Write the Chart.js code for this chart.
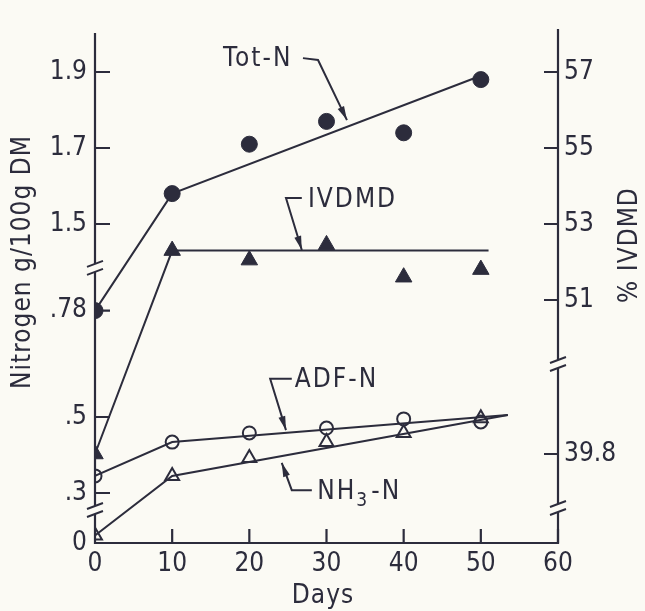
<!DOCTYPE html>
<html>
<head>
<meta charset="utf-8">
<script src="https://cdn.jsdelivr.net/npm/chart.js@4"></script>
<style>
html, body { margin: 0; padding: 0; background: #fbfaf4; }
</style>
</head>
<body>
<canvas id="myChart" width="645" height="611"></canvas>
<script>
// values
var days = [0, 10, 20, 30, 40, 50];
var totN = [0.78, 1.58, 1.71, 1.77, 1.74, 1.88];
var ivdmd = [39.8, 52.3, 52.05, 52.45, 51.6, 51.8];
var adfN = [0.345, 0.434, 0.458, 0.471, 0.495, 0.487];
var nh3N = [0.02, 0.345, 0.392, 0.434, 0.458, 0.497];

// hand-drawn fit lines
var totNFitDays = [0, 10, 50];
var totNFit = [0.78, 1.58, 1.89];
var ivdmdFitDays = [0, 10, 51];
var ivdmdFit = [39.8, 52.3, 52.3];
var adfFitDays = [0, 10, 53.5];
var adfFit = [0.345, 0.434, 0.505];
var nh3FitDays = [0, 10, 53.5];
var nh3Fit = [0.02, 0.345, 0.505];

var leftTicks = [0, 0.3, 0.5, 0.78, 1.5, 1.7, 1.9];
var leftLabels = ['0', '.3', '.5', '.78', '1.5', '1.7', '1.9'];
var rightTicks = [39.8, 51, 53, 55, 57];
var rightLabels = ['39.8', '51', '53', '55', '57'];

var ink = '#2c2c3c';
var paper = '#fbfaf4';
var fam = "'DejaVu Sans Condensed', 'Liberation Sans Narrow', 'DejaVu Sans', sans-serif";

// broken axes: every piece is shifted down by a fixed amount
function nPos(v) {
  if (v >= 1.0) return v - 0.6605;
  if (v >= 0.2) return v - 0.1684;
  return v;
}
function ivPos(v) {
  return v >= 45 ? (v - 44.605) / 10 : (v - 37.458) / 10;
}
var leftBreaks = [0.087, 0.724];
var rightBreaks = [0.092, 0.471];

function pts(xs, ys, f) {
  return xs.map(function (x, i) { return { x: x, y: f(ys[i]) }; });
}

function fitLine(xs, ys, f) {
  return { data: pts(xs, ys, f), showLine: true, pointRadius: 0, borderColor: ink, borderWidth: 2, tension: 0 };
}

function breakMark(ctx, x, y) {
  ctx.fillStyle = paper;
  ctx.fillRect(x - 3, y - 4, 6, 8);
  ctx.beginPath();
  [-4, 4].forEach(function (k) {
    ctx.moveTo(x - 8, y + k + 3);
    ctx.lineTo(x + 8, y + k - 3);
  });
  ctx.stroke();
}

function arrow(ctx, path) {
  ctx.beginPath();
  ctx.moveTo(path[0][0], path[0][1]);
  for (var i = 1; i < path.length; i++) ctx.lineTo(path[i][0], path[i][1]);
  ctx.stroke();
  var a = path[path.length - 2], b = path[path.length - 1];
  var ang = Math.atan2(b[1] - a[1], b[0] - a[0]);
  ctx.beginPath();
  ctx.moveTo(b[0], b[1]);
  ctx.lineTo(b[0] - 14 * Math.cos(ang) + 3.5 * Math.sin(ang), b[1] - 14 * Math.sin(ang) - 3.5 * Math.cos(ang));
  ctx.lineTo(b[0] - 14 * Math.cos(ang) - 3.5 * Math.sin(ang), b[1] - 14 * Math.sin(ang) + 3.5 * Math.cos(ang));
  ctx.closePath();
  ctx.fill();
}

var paperAxes = {
  id: 'paperAxes',
  beforeDatasetsDraw: function (chart) {
    var ctx = chart.ctx, xs = chart.scales.x, ys = chart.scales.y;
    var x0 = xs.getPixelForValue(0), x1 = xs.getPixelForValue(60), yb = ys.getPixelForValue(0);
    ctx.save();
    ctx.strokeStyle = ink;
    ctx.lineWidth = 2.2;
    ctx.beginPath();
    ctx.moveTo(x0, chart.chartArea.top - 1); ctx.lineTo(x0, yb);
    ctx.lineTo(x1, yb); ctx.lineTo(x1, chart.chartArea.top - 5);
    ctx.stroke();
    ctx.beginPath();
    leftTicks.forEach(function (v) {
      if (v === 0) return;
      var y = ys.getPixelForValue(nPos(v));
      ctx.moveTo(x0, y); ctx.lineTo(x0 + 15, y);
    });
    rightTicks.forEach(function (v) {
      var y = ys.getPixelForValue(ivPos(v));
      ctx.moveTo(x1, y); ctx.lineTo(x1 - 14, y);
    });
    for (var d = 10; d <= 60; d += 10) {
      var x = xs.getPixelForValue(d);
      ctx.moveTo(x, yb); ctx.lineTo(x, yb - 14);
    }
    ctx.stroke();
    ctx.lineWidth = 2;
    leftBreaks.forEach(function (b) { breakMark(ctx, x0, ys.getPixelForValue(b)); });
    rightBreaks.forEach(function (b) { breakMark(ctx, x1, ys.getPixelForValue(b)); });
    ctx.restore();
  },
  afterDraw: function (chart) {
    var ctx = chart.ctx, xs = chart.scales.x, ys = chart.scales.y;
    function P(day, pos) { return [xs.getPixelForValue(day), ys.getPixelForValue(pos)]; }
    ctx.save();
    ctx.fillStyle = ink;
    ctx.strokeStyle = ink;
    ctx.lineWidth = 2;
    ctx.font = '26px ' + fam;
    ctx.letterSpacing = '2px';
    ctx.textBaseline = 'middle';
    ctx.textAlign = 'left';

    var t = P(16.6, 1.274);
    ctx.fillText('Tot-N', t[0], t[1]);
    arrow(ctx, [P(26.95, 1.276), P(28.9, 1.271), P(32.65, 1.113)]);

    t = P(27.6, 0.903);
    ctx.fillText('IVDMD', t[0], t[1]);
    arrow(ctx, [P(26.8, 0.908), P(24.75, 0.908), P(26.8, 0.771)]);

    t = P(25.9, 0.429);
    ctx.fillText('ADF-N', t[0], t[1]);
    arrow(ctx, [P(25.5, 0.432), P(22.7, 0.432), P(24.75, 0.297)]);

    t = P(28.8, 0.134);
    ctx.fillText('NH', t[0], t[1]);
    var w = ctx.measureText('NH').width;
    ctx.font = '19px ' + fam;
    ctx.fillText('3', t[0] + w, t[1] + 9);
    var w3 = ctx.measureText('3').width;
    ctx.font = '26px ' + fam;
    ctx.fillText('-N', t[0] + w + w3 + 2, t[1]);
    arrow(ctx, [P(28.1, 0.139), P(25.5, 0.139), P(24.2, 0.211)]);

    // axis titles
    ctx.textAlign = 'center';
    ctx.font = '26px ' + fam;
    ctx.letterSpacing = '1px';
    ctx.fillText('Days', 323, 596);
    ctx.save();
    ctx.translate(23, 262);
    ctx.rotate(-Math.PI / 2);
    ctx.fillText('Nitrogen g/100g DM', 0, 0);
    ctx.restore();
    ctx.save();
    ctx.translate(630, 245);
    ctx.rotate(-Math.PI / 2);
    ctx.fillText('% IVDMD', 0, 0);
    ctx.restore();
    ctx.restore();
  }
};

var tickFont = { family: fam, size: 26 };

var ctx = document.getElementById('myChart').getContext('2d');
var myChart = new Chart(ctx, {
  type: 'scatter',
  data: {
    datasets: [
      { data: pts(days, totN, nPos), pointStyle: 'circle', pointRadius: 8, backgroundColor: ink, borderColor: ink },
      { data: pts(days, ivdmd, ivPos), pointStyle: 'triangle', pointRadius: 9.5, backgroundColor: ink, borderColor: ink },
      { data: pts(days, adfN, nPos), pointStyle: 'circle', pointRadius: 6.5, backgroundColor: 'rgba(0,0,0,0)', borderColor: ink, borderWidth: 2 },
      { data: pts(days, nh3N, nPos), pointStyle: 'triangle', pointRadius: 8, backgroundColor: 'rgba(0,0,0,0)', borderColor: ink, borderWidth: 2 },
      fitLine(totNFitDays, totNFit, nPos),
      fitLine(ivdmdFitDays, ivdmdFit, ivPos),
      fitLine(adfFitDays, adfFit, nPos),
      fitLine(nh3FitDays, nh3Fit, nPos)
    ]
  },
  options: {
    responsive: false,
    animation: false,
    layout: { padding: { top: 34, left: 0, right: 0, bottom: 0 } },
    plugins: { legend: { display: false }, tooltip: { enabled: false } },
    scales: {
      x: {
        type: 'linear', min: 0, max: 60,
        ticks: { stepSize: 10, padding: 6, color: ink, font: tickFont },
        grid: { display: false, drawTicks: false },
        border: { display: false },
        afterFit: function (s) { s.height = 68; }
      },
      y: {
        position: 'left', min: 0, max: 1.3395,
        afterBuildTicks: function (s) { s.ticks = leftTicks.map(function (v) { return { value: nPos(v) }; }); },
        ticks: { autoSkip: false, padding: 8, color: ink, font: tickFont, callback: function (v, i) { return leftLabels[i]; } },
        grid: { display: false, drawTicks: false },
        border: { display: false },
        afterFit: function (s) { s.width = 95; }
      },
      y2: {
        position: 'right', min: 0, max: 1.3395,
        afterBuildTicks: function (s) { s.ticks = rightTicks.map(function (v) { return { value: ivPos(v) }; }); },
        ticks: { autoSkip: false, padding: 6, color: ink, font: tickFont, callback: function (v, i) { return rightLabels[i]; } },
        grid: { display: false, drawTicks: false },
        border: { display: false },
        afterFit: function (s) { s.width = 87; }
      }
    }
  },
  plugins: [paperAxes]
});
</script>
</body>
</html>
